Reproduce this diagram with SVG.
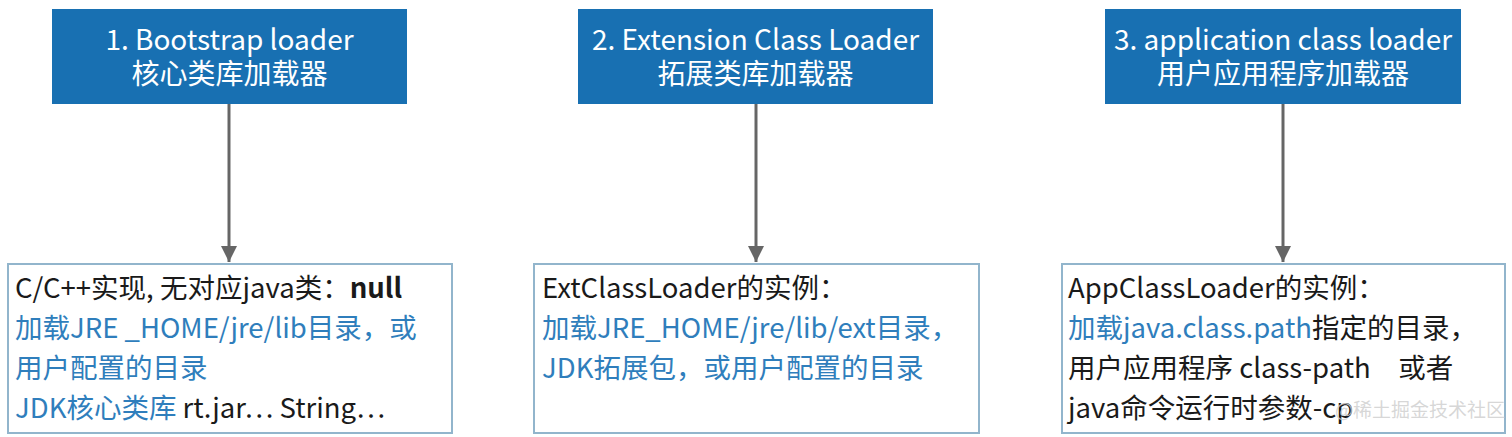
<svg xmlns="http://www.w3.org/2000/svg" width="1512" height="437" viewBox="0 0 1512 437">
<defs>
<style>
text{font-family:"Noto Sans CJK SC","Noto Sans",sans-serif;}
.hd{fill:#1870b2;}
.ht{fill:#ffffff;font-size:28px;text-anchor:middle;}
.bx{fill:#ffffff;stroke:#92b5cc;stroke-width:2;}
.bt{font-size:27.5px;fill:#1a1a1a;}
.bl{fill:#2f7ebc;}
.ln{stroke:#666666;stroke-width:3;fill:none;}
.wm{font-size:19px;fill:#d0d0d0;fill-opacity:0.85;}
</style>
<marker id="ah" markerWidth="16" markerHeight="16" viewBox="0 0 16 16" refX="16" refY="8" orient="auto" markerUnits="userSpaceOnUse">
<path d="M0,0 L16,8 L0,16 Z" fill="#666666"/>
</marker>
</defs>
<rect width="1512" height="437" fill="#ffffff"/>
<g id="connectors">
<line class="ln" x1="229" y1="104" x2="229" y2="262" marker-end="url(#ah)"/>
<line class="ln" x1="756" y1="104" x2="756" y2="262" marker-end="url(#ah)"/>
<line class="ln" x1="1283" y1="104" x2="1283" y2="262" marker-end="url(#ah)"/>
</g>
<g id="bootstrap">
<rect class="hd" x="52" y="9" width="355" height="95"/>
<text class="ht" x="229.5" y="50">1. Bootstrap loader</text>
<text class="ht" x="229.5" y="84">核心类库加载器</text>
</g>
<g id="extension">
<rect class="hd" x="578" y="9" width="355" height="95"/>
<text class="ht" x="755.5" y="50">2. Extension Class Loader</text>
<text class="ht" x="755.5" y="84">拓展类库加载器</text>
</g>
<g id="application">
<rect class="hd" x="1105" y="9" width="356" height="95"/>
<text class="ht" x="1283" y="50">3. application class loader</text>
<text class="ht" x="1283" y="84">用户应用程序加载器</text>
</g>
<g id="bootstrap-detail">
<rect class="bx" x="8" y="264" width="444" height="169"/>
<text class="bt" x="15" y="298">C/C++实现, 无对应java类：<tspan font-weight="bold">null</tspan></text>
<text class="bt bl" x="15" y="338">加载JRE _HOME/jre/lib目录，或</text>
<text class="bt bl" x="15" y="378">用户配置的目录</text>
<text class="bt" x="15" y="418"><tspan class="bl">JDK核心类库</tspan> rt.jar… String…</text>
</g>
<g id="extension-detail">
<rect class="bx" x="534" y="264" width="445" height="169"/>
<text class="bt" x="542" y="298">ExtClassLoader的实例：</text>
<text class="bt bl" x="542" y="338">加载JRE_HOME/jre/lib/ext目录，</text>
<text class="bt bl" x="542" y="378">JDK拓展包，或用户配置的目录</text>
</g>
<g id="application-detail">
<rect class="bx" x="1062" y="264" width="443" height="169"/>
<text class="bt" x="1068" y="298">AppClassLoader的实例：</text>
<text class="bt" x="1068" y="338"><tspan class="bl">加载java.class.path</tspan>指定的目录，</text>
<text class="bt" x="1068" y="378">用户应用程序 class-path　或者</text>
<text class="bt" x="1068" y="418">java命令运行时参数-cp</text>
<text class="wm" x="1335" y="417">@稀土掘金技术社区</text>
</g>
</svg>
